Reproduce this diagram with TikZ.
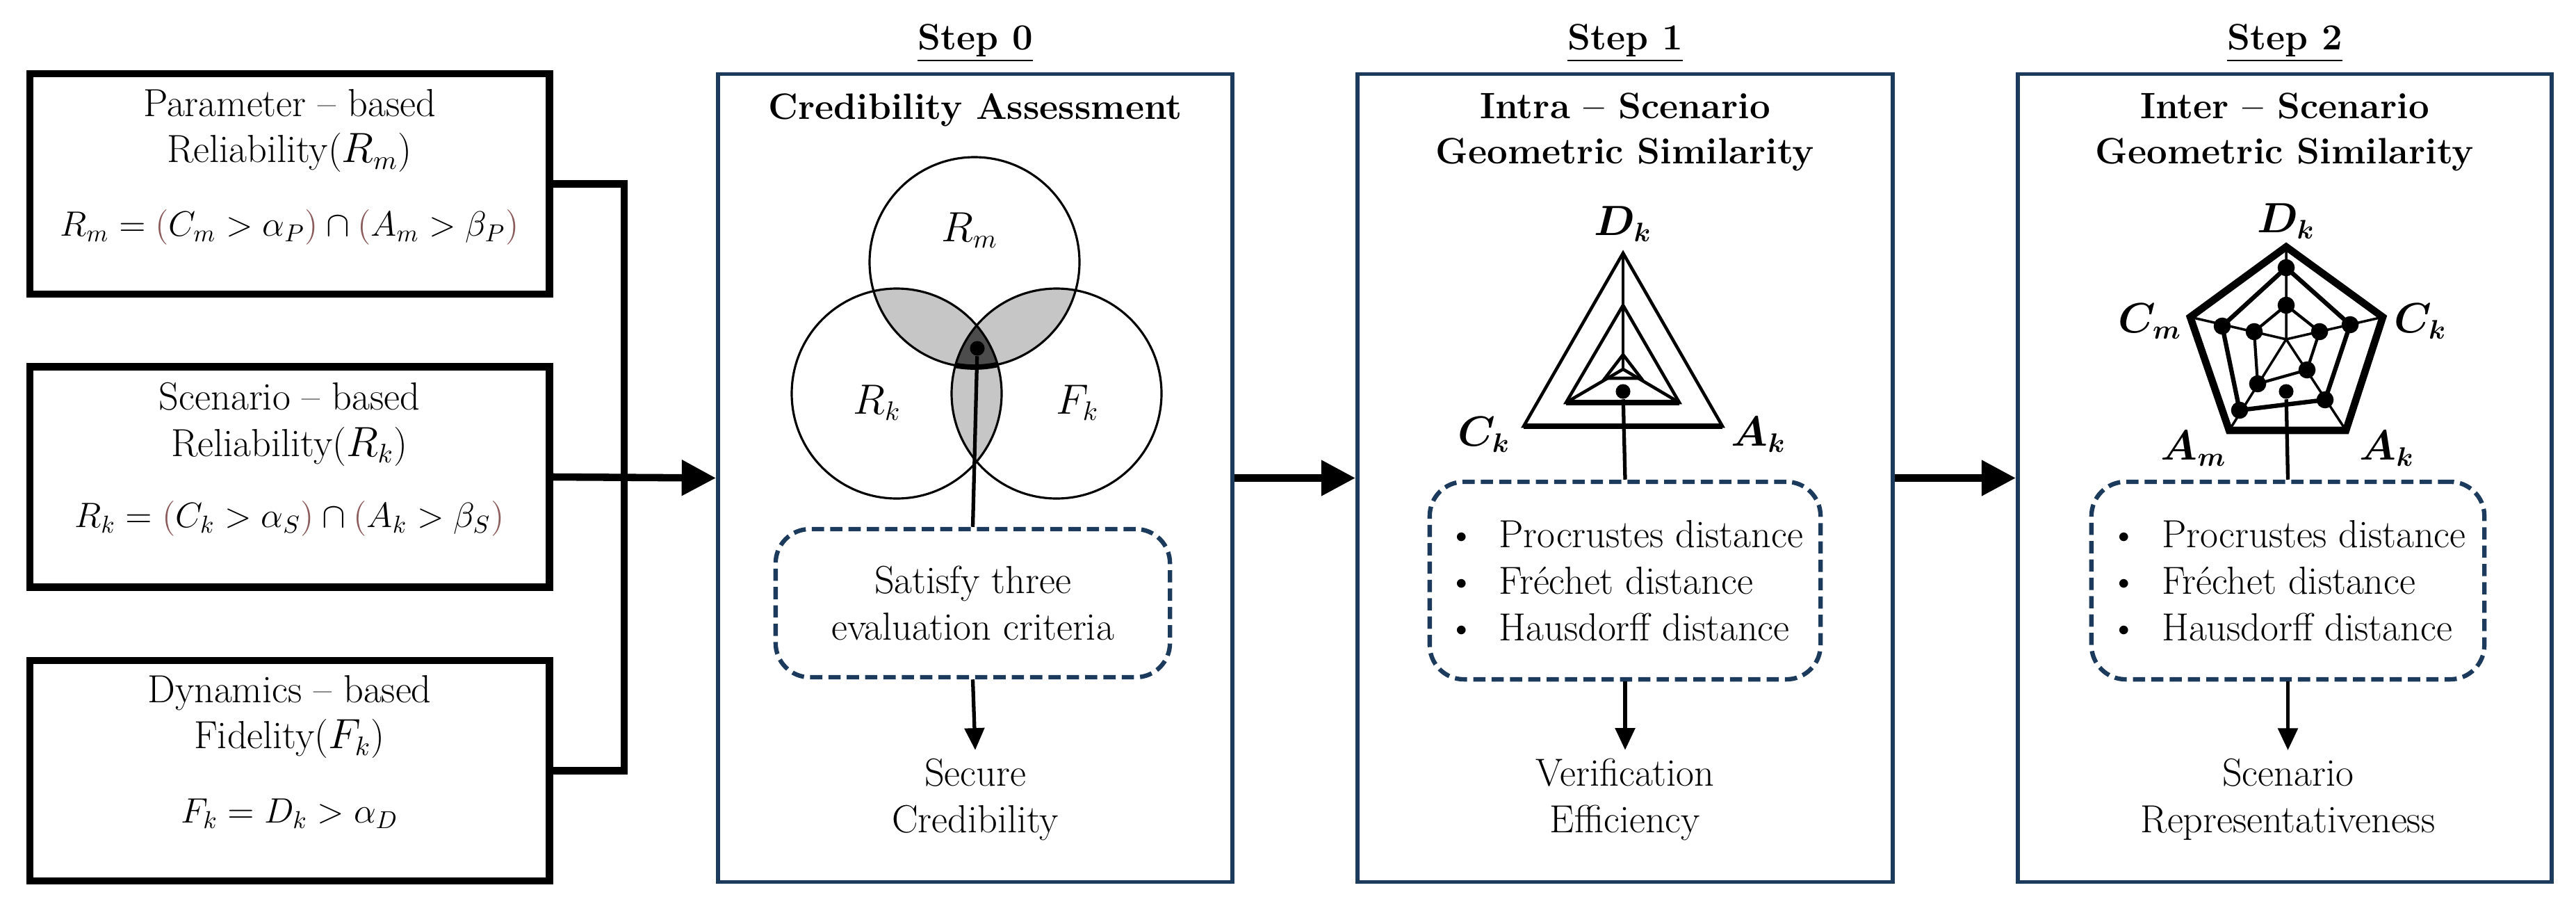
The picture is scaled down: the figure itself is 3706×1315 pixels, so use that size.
\documentclass[tikz,border=0pt]{standalone}
\usepackage{bm}
\usetikzlibrary{arrows.meta}
\definecolor{navy}{HTML}{1B3A5C}
\definecolor{parc}{HTML}{8B5A5A}
\newcommand{\lp}{\textcolor{parc}{(}}
\newcommand{\rp}{\textcolor{parc}{)}}
\begin{document}
\begin{tikzpicture}[x=0.01cm,y=-0.01cm,
  every node/.style={font=\fontsize{16}{19}\selectfont},
  lbox/.style={draw=black,line width=3pt,minimum width=7.47cm,minimum height=3.17cm},
  sbox/.style={draw=navy,line width=1.6pt,minimum height=11.61cm},
  dbox/.style={draw=navy,line width=1.8pt,dashed,dash pattern=on 5pt off 2.5pt,rounded corners=14pt},
  conn/.style={line width=3pt},
  arr/.style={line width=3pt,-{Triangle[length=14pt,width=14pt]}},
  oarr/.style={line width=1.5pt,-{Triangle[length=9pt,width=8pt]}},
  dot/.style={circle,fill=black,inner sep=0pt,minimum size=6pt},
  title/.style={font=\fontsize{15}{18.5}\selectfont\bfseries,align=center},
  form/.style={font=\fontsize{14}{17}\selectfont},
  txt/.style={align=center}]
\useasboundingbox (0,0) rectangle (3706,1315);
% left boxes
\node[lbox] (b1) at (416.5,264.5) {};
\node[lbox] (b2) at (416.5,686) {};
\node[lbox] (b3) at (416.5,1108.5) {};
\node[txt] (t1) at (416.5,188) {Parameter -- based\\Reliability($R_m$)};
\node[form] (f1) at (416.5,327) {$R_m = \lp C_m > \alpha_P\rp \cap \lp A_m > \beta_P\rp$};
\node[txt] (t2) at (416.5,610) {Scenario -- based\\Reliability($R_k$)};
\node[form] (f2) at (416.5,746) {$R_k = \lp C_k > \alpha_S\rp \cap \lp A_k > \beta_S\rp$};
\node[txt] (t3) at (416.5,1031) {Dynamics -- based\\Fidelity($F_k$)};
\node[form] (f3) at (416.5,1170) {$F_k = D_k > \alpha_D$};
% step boxes
\node[sbox,minimum width=7.40cm] (s0) at (1403,687.5) {};
\node[sbox,minimum width=7.70cm] (s1) at (2338,687.5) {};
\node[sbox,minimum width=7.68cm] (s2) at (3287,687.5) {};
\node[title] (h0) at (1403,62) {\underline{Step 0}};
\node[title] (h1) at (2338,62) {\underline{Step 1}};
\node[title] (h2) at (3287,62) {\underline{Step 2}};
\node[title] (g0) at (1403,158) {Credibility Assessment};
\node[title] (g1) at (2338,190) {Intra -- Scenario\\Geometric Similarity};
\node[title] (g2) at (3287,190) {Inter -- Scenario\\Geometric Similarity};
% connectors
\coordinate (jn) at (898,264.5);
\draw[conn] (b1.east) -- (jn) |- (b3.east);
\draw[arr] (b2.east) -- (s0.west);
\draw[arr] (s0.east) -- (s1.west);
\draw[arr] (s1.east) -- (s2.west);
% Venn
\def\r{151}
\coordinate (ct) at (1402,377);
\coordinate (cl) at (1290,566);
\coordinate (cr) at (1520,566);
\begin{scope}
  \clip (ct) circle (\r); \fill[gray!45] (cl) circle (\r); \fill[gray!45] (cr) circle (\r);
\end{scope}
\begin{scope}
  \clip (cl) circle (\r); \fill[gray!45] (cr) circle (\r);
\end{scope}
\begin{scope}
  \clip (ct) circle (\r); \clip (cl) circle (\r); \fill[black!70] (cr) circle (\r);
\end{scope}
\begin{scope}
  \clip (cl) circle (\r); \clip (cr) circle (\r); \draw[line width=2.2pt] (ct) circle (\r);
\end{scope}
\draw[line width=0.9pt] (ct) circle (\r) (cl) circle (\r) (cr) circle (\r);
\node (vm) at (1395,331) {$R_m$};
\node (vk) at (1262,579) {$R_k$};
\node (vf) at (1550,579) {$F_k$};
\node[dot] (v0) at (1406,501) {};
% dashed boxes
\node[dbox,minimum width=5.67cm,minimum height=2.13cm,txt] (d0) at (1399.5,867.5) {Satisfy three\\evaluation criteria};
\node[dbox,minimum width=5.62cm,minimum height=2.84cm,align=left] (d1) at (2338,835) {\textbullet\ \ Procrustes distance\\\textbullet\ \ Fr\'echet distance\\\textbullet\ \ Hausdorff distance};
\node[dbox,minimum width=5.65cm,minimum height=2.84cm,align=left] (d2) at (3291.5,835) {\textbullet\ \ Procrustes distance\\\textbullet\ \ Fr\'echet distance\\\textbullet\ \ Hausdorff distance};
\draw[line width=1.5pt] (v0) -- (d0.north);
% outputs
\node[txt] (o0) at (1403,1150) {Secure\\Credibility};
\node[txt] (o1) at (2338,1150) {Verification\\Efficiency};
\node[txt] (o2) at (3291.5,1150) {Scenario\\Representativeness};
\draw[oarr] (d0.south) -- (o0.north);
\draw[oarr] (d1.south) -- (o1.north);
\draw[oarr] (d2.south) -- (o2.north);
% triangle
\draw[line width=1.3pt] (2335,364) -- (2192,613) -- (2478,613) -- cycle;
\draw[line width=1.3pt] (2335,439) -- (2253,579) -- (2416,579) -- cycle;
\draw[line width=1.3pt] (2335,510) -- (2309,544) -- (2361,544) -- cycle;
\draw[line width=1.3pt] (2335,531) -- (2253,579);
\draw[line width=1.3pt] (2335,531) -- (2416,579);
\draw[line width=2.2pt] (2253,579) -- (2416,579) (2192,613) -- (2478,613);
\draw[line width=1pt] (2335,364) -- (2335,531);
\node[dot] (v1) at (2335,563) {};
\draw[line width=1.5pt] (v1) -- (d1.north);
\node (ld) at (2335,322) {$\bm{D_k}$};
\node (lc) at (2135,625) {$\bm{C_k}$};
\node (la) at (2530,625) {$\bm{A_k}$};
% pentagon
\coordinate (pc) at (3289,488);
\draw[line width=3pt] (3289,355) -- (3428,456) -- (3375,619) -- (3207,619) -- (3151,456) -- cycle;
\draw[line width=1pt] (pc) -- (3289,355) (pc) -- (3428,456) (pc) -- (3375,619) (pc) -- (3207,619) (pc) -- (3151,456);
\draw[line width=1.8pt] (3289,385) -- (3381,467) -- (3345,575) -- (3222,590) -- (3197,469) -- cycle;
\draw[line width=1.2pt] (3289,439) -- (3337,477) -- (3319,532) -- (3248,552) -- (3243,477) -- cycle;
\foreach \p in {(3289,385),(3381,467),(3345,575),(3222,590),(3197,469),(3289,439),(3337,477),(3319,532),(3248,552),(3243,477)}
  \fill \p circle (3.5pt);
\node[dot] (v2) at (3289,563) {};
\draw[line width=1.5pt] (v2) -- (d2.north);
\node (pd) at (3289,318) {$\bm{D_k}$};
\node (pk) at (3482,462) {$\bm{C_k}$};
\node (pm) at (3093,462) {$\bm{C_m}$};
\node (pam) at (3156,645) {$\bm{A_m}$};
\node (pak) at (3434,645) {$\bm{A_k}$};
\end{tikzpicture}
\end{document}
